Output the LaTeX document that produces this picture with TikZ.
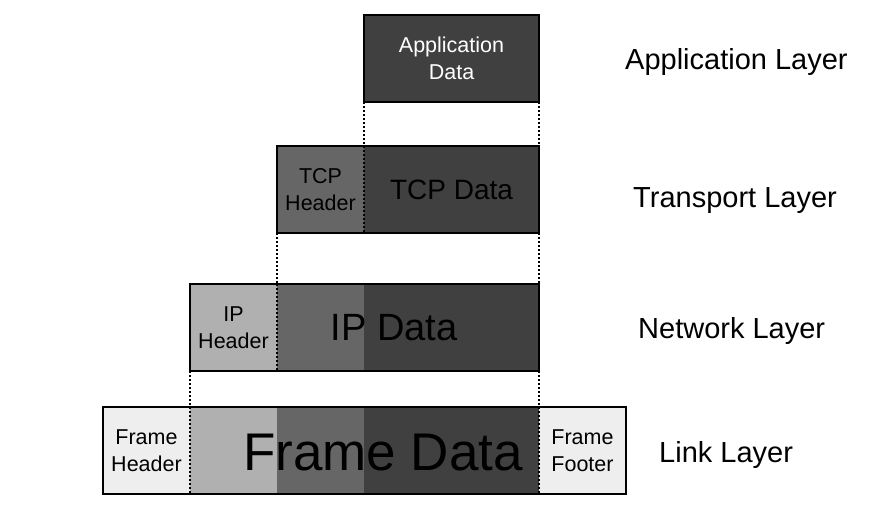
\documentclass[tikz,border=0pt]{standalone}
\usepackage{fontspec}
\setmainfont{Liberation Sans}
\definecolor{dk}{HTML}{404040}
\definecolor{md}{HTML}{666666}
\definecolor{lt}{HTML}{B0B0B0}
\definecolor{xl}{HTML}{EEEEEE}
\begin{document}
\begin{tikzpicture}[x=1pt,y=-1pt,
  cell/.style={inner sep=0pt, outer sep=0pt, minimum height=87pt, anchor=north west, align=center, font=\fontsize{21.5}{26.5}\selectfont},
  outline/.style={draw=black, line width=2.4pt, inner sep=0pt, outer sep=0pt, minimum height=87pt, anchor=north west},
  sep/.style={line width=2pt, dash pattern=on 2pt off 2pt},
  layer/.style={anchor=base west, inner sep=0pt, font=\fontsize{29}{34}\selectfont}]
\useasboundingbox (0,0) rectangle (886,509);
% application
\node[cell, fill=dk, draw=black, line width=2.4pt, minimum width=175pt, text=white] (app) at (364,15) {Application\\Data};
% transport
\node[cell, fill=md, minimum width=87pt] (tcph) at (277,146) {TCP\\Header};
\node[cell, fill=dk, minimum width=175pt, font=\fontsize{28}{32}\selectfont] (tcpd) at (364,146) {TCP Data};
\node[outline, minimum width=262pt] (tcpbox) at (277,146) {};
% network
\node[cell, fill=lt, minimum width=87pt] (iph) at (190,284) {IP\\Header};
\node[cell, fill=md, minimum width=87pt] (ipm) at (277,284) {};
\node[cell, fill=dk, minimum width=175pt] (ipd) at (364,284) {};
\node[outline, minimum width=349pt] (ipbox) at (190,284) {};
\node[inner sep=0pt, font=\fontsize{38}{42}\selectfont] (ipt) at (394,328) {IP Data};
% link
\node[cell, fill=xl, minimum width=87pt] (fh) at (103,407) {Frame\\Header};
\node[cell, fill=lt, minimum width=87pt] (f1) at (190,407) {};
\node[cell, fill=md, minimum width=87pt] (f2) at (277,407) {};
\node[cell, fill=dk, minimum width=175pt] (f3) at (364,407) {};
\node[cell, fill=xl, minimum width=87pt] (ff) at (539,407) {Frame\\Footer};
\node[outline, minimum width=523pt] (fbox) at (103,407) {};
\node[inner sep=0pt, font=\fontsize{53}{58}\selectfont] (ft) at (383,453) {Frame Data};
% dotted lines
\draw[sep] (app.south west) -- (tcpd.north west);
\draw[sep] (app.south east) -- (tcpd.north east);
\draw[sep] (tcpd.north west) -- (tcpd.south west);
\draw[sep] (tcph.south west) -- (ipm.north west);
\draw[sep] (tcpd.south east) -- (ipd.north east);
\draw[sep] (iph.north east) -- (iph.south east);
\draw[sep] (iph.south west) -- (f1.north west);
\draw[sep] (ipd.south east) -- (f3.north east);
\draw[sep] (fh.north east) -- (fh.south east);
\draw[sep] (ff.north west) -- (ff.south west);
% layer labels
\node[layer] (l1) at (625,69) {Application Layer};
\node[layer] (l2) at (633,207) {Transport Layer};
\node[layer] (l3) at (638,338) {Network Layer};
\node[layer] (l4) at (659,462) {Link Layer};
\end{tikzpicture}
\end{document}
